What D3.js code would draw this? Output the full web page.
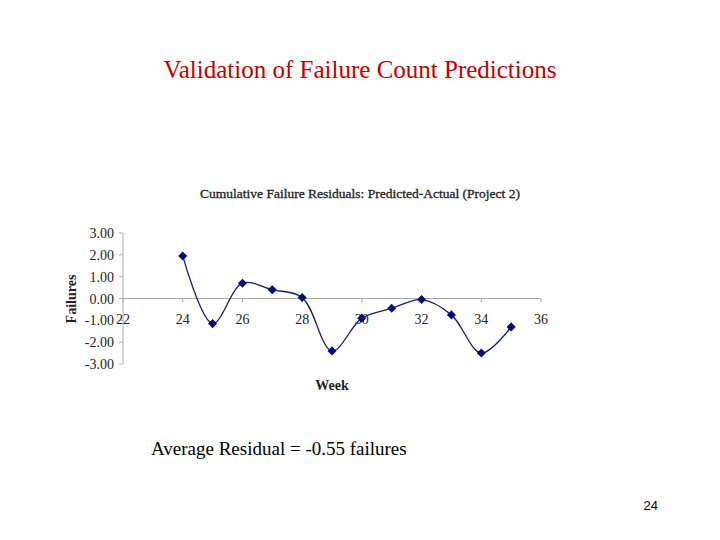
<!DOCTYPE html><html><head><meta charset="utf-8"><script src="https://cdn.jsdelivr.net/npm/d3@7"></script>
<style>body{margin:0;background:#fff}</style></head><body><svg id="c" width="720" height="540"></svg><script>
const weeks=[24,25,26,27,28,29,30,31,32,33,34,35];
const residuals=[1.95,-1.15,0.7,0.4,0.05,-2.4,-0.9,-0.45,-0.05,-0.75,-2.5,-1.3];
const xTicks=[22,24,26,28,30,32,34,36];
const yTicks=[3,2,1,0,-1,-2,-3];
const svg=d3.select("#c");
const F="'Liberation Serif', 'DejaVu Serif', serif";
svg.append("text").attr("x",360).attr("y",78).attr("text-anchor","middle").attr("font-family",F).attr("font-size",25).attr("fill","#c00000").text("Validation of Failure Count Predictions");
svg.append("text").attr("x",360).attr("y",198).attr("text-anchor","middle").attr("font-family",F).attr("font-size",13.5).attr("fill","#222").attr("stroke","#222").attr("stroke-width",0.3).text("Cumulative Failure Residuals: Predicted-Actual  (Project 2)");
const x=d3.scaleLinear().domain([22,36]).range([123,541]);
const y=d3.scaleLinear().domain([-3,3]).range([364,233]);
svg.append("line").attr("x1",123).attr("x2",123).attr("y1",y(3)).attr("y2",y(-3)).attr("stroke","#aaa");
yTicks.forEach(t=>{
 svg.append("line").attr("x1",119).attr("x2",123).attr("y1",y(t)).attr("y2",y(t)).attr("stroke","#aaa");
 svg.append("text").attr("x",114).attr("y",y(t)+5).attr("text-anchor","end").attr("font-family",F).attr("font-size",14).attr("fill","#222").text(t.toFixed(2));
});
svg.append("line").attr("x1",123).attr("x2",541).attr("y1",y(0)).attr("y2",y(0)).attr("stroke","#aaa");
xTicks.forEach(t=>{
 svg.append("line").attr("x1",x(t)).attr("x2",x(t)).attr("y1",y(0)).attr("y2",y(0)+4).attr("stroke","#aaa");
 svg.append("text").attr("x",x(t)).attr("y",y(0)+25).attr("text-anchor","middle").attr("font-family",F).attr("font-size",14).attr("fill","#222").text(t);
});
svg.append("text").attr("transform","translate(76,299) rotate(-90)").attr("text-anchor","middle").attr("font-family",F).attr("font-size",14).attr("font-weight","bold").attr("fill","#222").text("Failures");
svg.append("text").attr("x",332).attr("y",390).attr("text-anchor","middle").attr("font-family",F).attr("font-size",14).attr("font-weight","bold").attr("fill","#222").text("Week");
const data=weeks.map((w,i)=>[w,residuals[i]]);
svg.append("path").attr("d",d3.line().x(d=>x(d[0])).y(d=>y(d[1])).curve(d3.curveCatmullRom.alpha(0.5))(data)).attr("fill","none").attr("stroke","#1a1a7a").attr("stroke-width",1.3);
svg.selectAll(".m").data(data).enter().append("rect").attr("x",-3.2).attr("y",-3.2).attr("width",6.4).attr("height",6.4).attr("transform",d=>`translate(${x(d[0])},${y(d[1])}) rotate(45)`).attr("fill","#0a0a6e");
svg.append("text").attr("x",151).attr("y",455).attr("font-family",F).attr("font-size",19).attr("fill","#000").text("Average Residual = -0.55 failures");
svg.append("text").attr("x",658).attr("y",510).attr("text-anchor","end").attr("font-family","Liberation Sans, Arial, sans-serif").attr("font-size",13).attr("fill","#000").text("24");
</script></body></html>
